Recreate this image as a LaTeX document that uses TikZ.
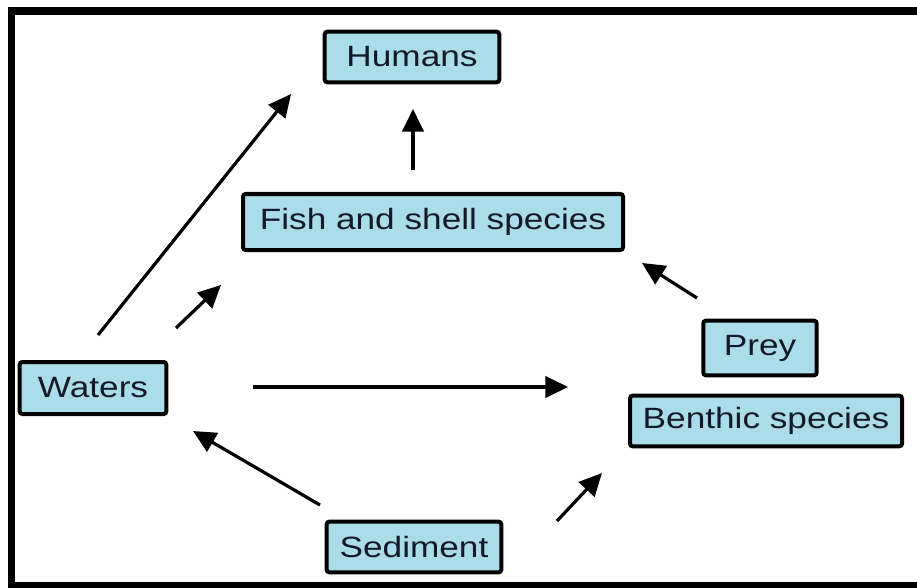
\documentclass[tikz,border=0pt]{standalone}
\usepackage{fontspec}
\setmainfont{Liberation Sans}[FakeStretch=1.2]
\usetikzlibrary{arrows.meta}

\definecolor{boxblue}{RGB}{170,221,233}
\definecolor{boxtext}{RGB}{20,24,40}

\tikzset{every picture/.style={line width=0.75pt}}
\tikzset{
  species/.style={draw=black, line width=3pt, fill=boxblue, rounded corners=2pt,
    inner sep=0pt, minimum height=38pt, text=boxtext,
    font=\fontsize{22}{26}\selectfont},
  flow/.style={line width=2.4pt, -{Triangle[length=17pt,width=16pt]}}
}

\begin{document}
\begin{tikzpicture}[x=0.75pt,y=0.75pt,yscale=-1,xscale=1]
\useasboundingbox (0,0) rectangle (917,588);

%Frame
\fill [black] (8,7) rectangle (917,15);
\fill [black] (8,7) rectangle (15,588);
\fill [black] (8,582) rectangle (917,588);

% Text Node
\node [species, minimum width=131pt] (humans) at (412,57) {Humans};
% Text Node
\node [species, minimum width=285pt, minimum height=42pt] (fish) at (433,222) {Fish and shell species};
% Text Node
\node [species, minimum width=110pt, minimum height=39pt] (waters) at (93,388) {Waters};
% Text Node
\node [species, minimum width=85pt, minimum height=41pt] (prey) at (760,348) {Prey};
% Text Node
\node [species, minimum width=204pt] (benthic) at (766,421) {Benthic species};
% Text Node
\node [species, minimum width=131pt] (sediment) at (414,547) {Sediment};

%Arrow ends
\coordinate (w2h-a) at (98,335);  \coordinate (w2h-b) at (291,94);
\coordinate (w2f-a) at (176,328); \coordinate (w2f-b) at (221,285);
\coordinate (f2h-a) at (413,170); \coordinate (f2h-b) at (413,109);
\coordinate (p2f-a) at (697,298); \coordinate (p2f-b) at (642,263);
\coordinate (w2b-a) at (253,387); \coordinate (w2b-b) at (568,387);
\coordinate (s2w-a) at (320,505); \coordinate (s2w-b) at (193,431);
\coordinate (s2b-a) at (557,521); \coordinate (s2b-b) at (602,473);

%Straight Lines
\draw [flow] (w2h-a) -- (w2h-b);
%Straight Lines
\draw [flow] (w2f-a) -- (w2f-b);
%Straight Lines
\draw [flow] (f2h-a) -- (f2h-b);
%Straight Lines
\draw [flow] (p2f-a) -- (p2f-b);
%Straight Lines
\draw [flow] (w2b-a) -- (w2b-b);
%Straight Lines
\draw [flow] (s2w-a) -- (s2w-b);
%Straight Lines
\draw [flow] (s2b-a) -- (s2b-b);

\end{tikzpicture}
\end{document}
